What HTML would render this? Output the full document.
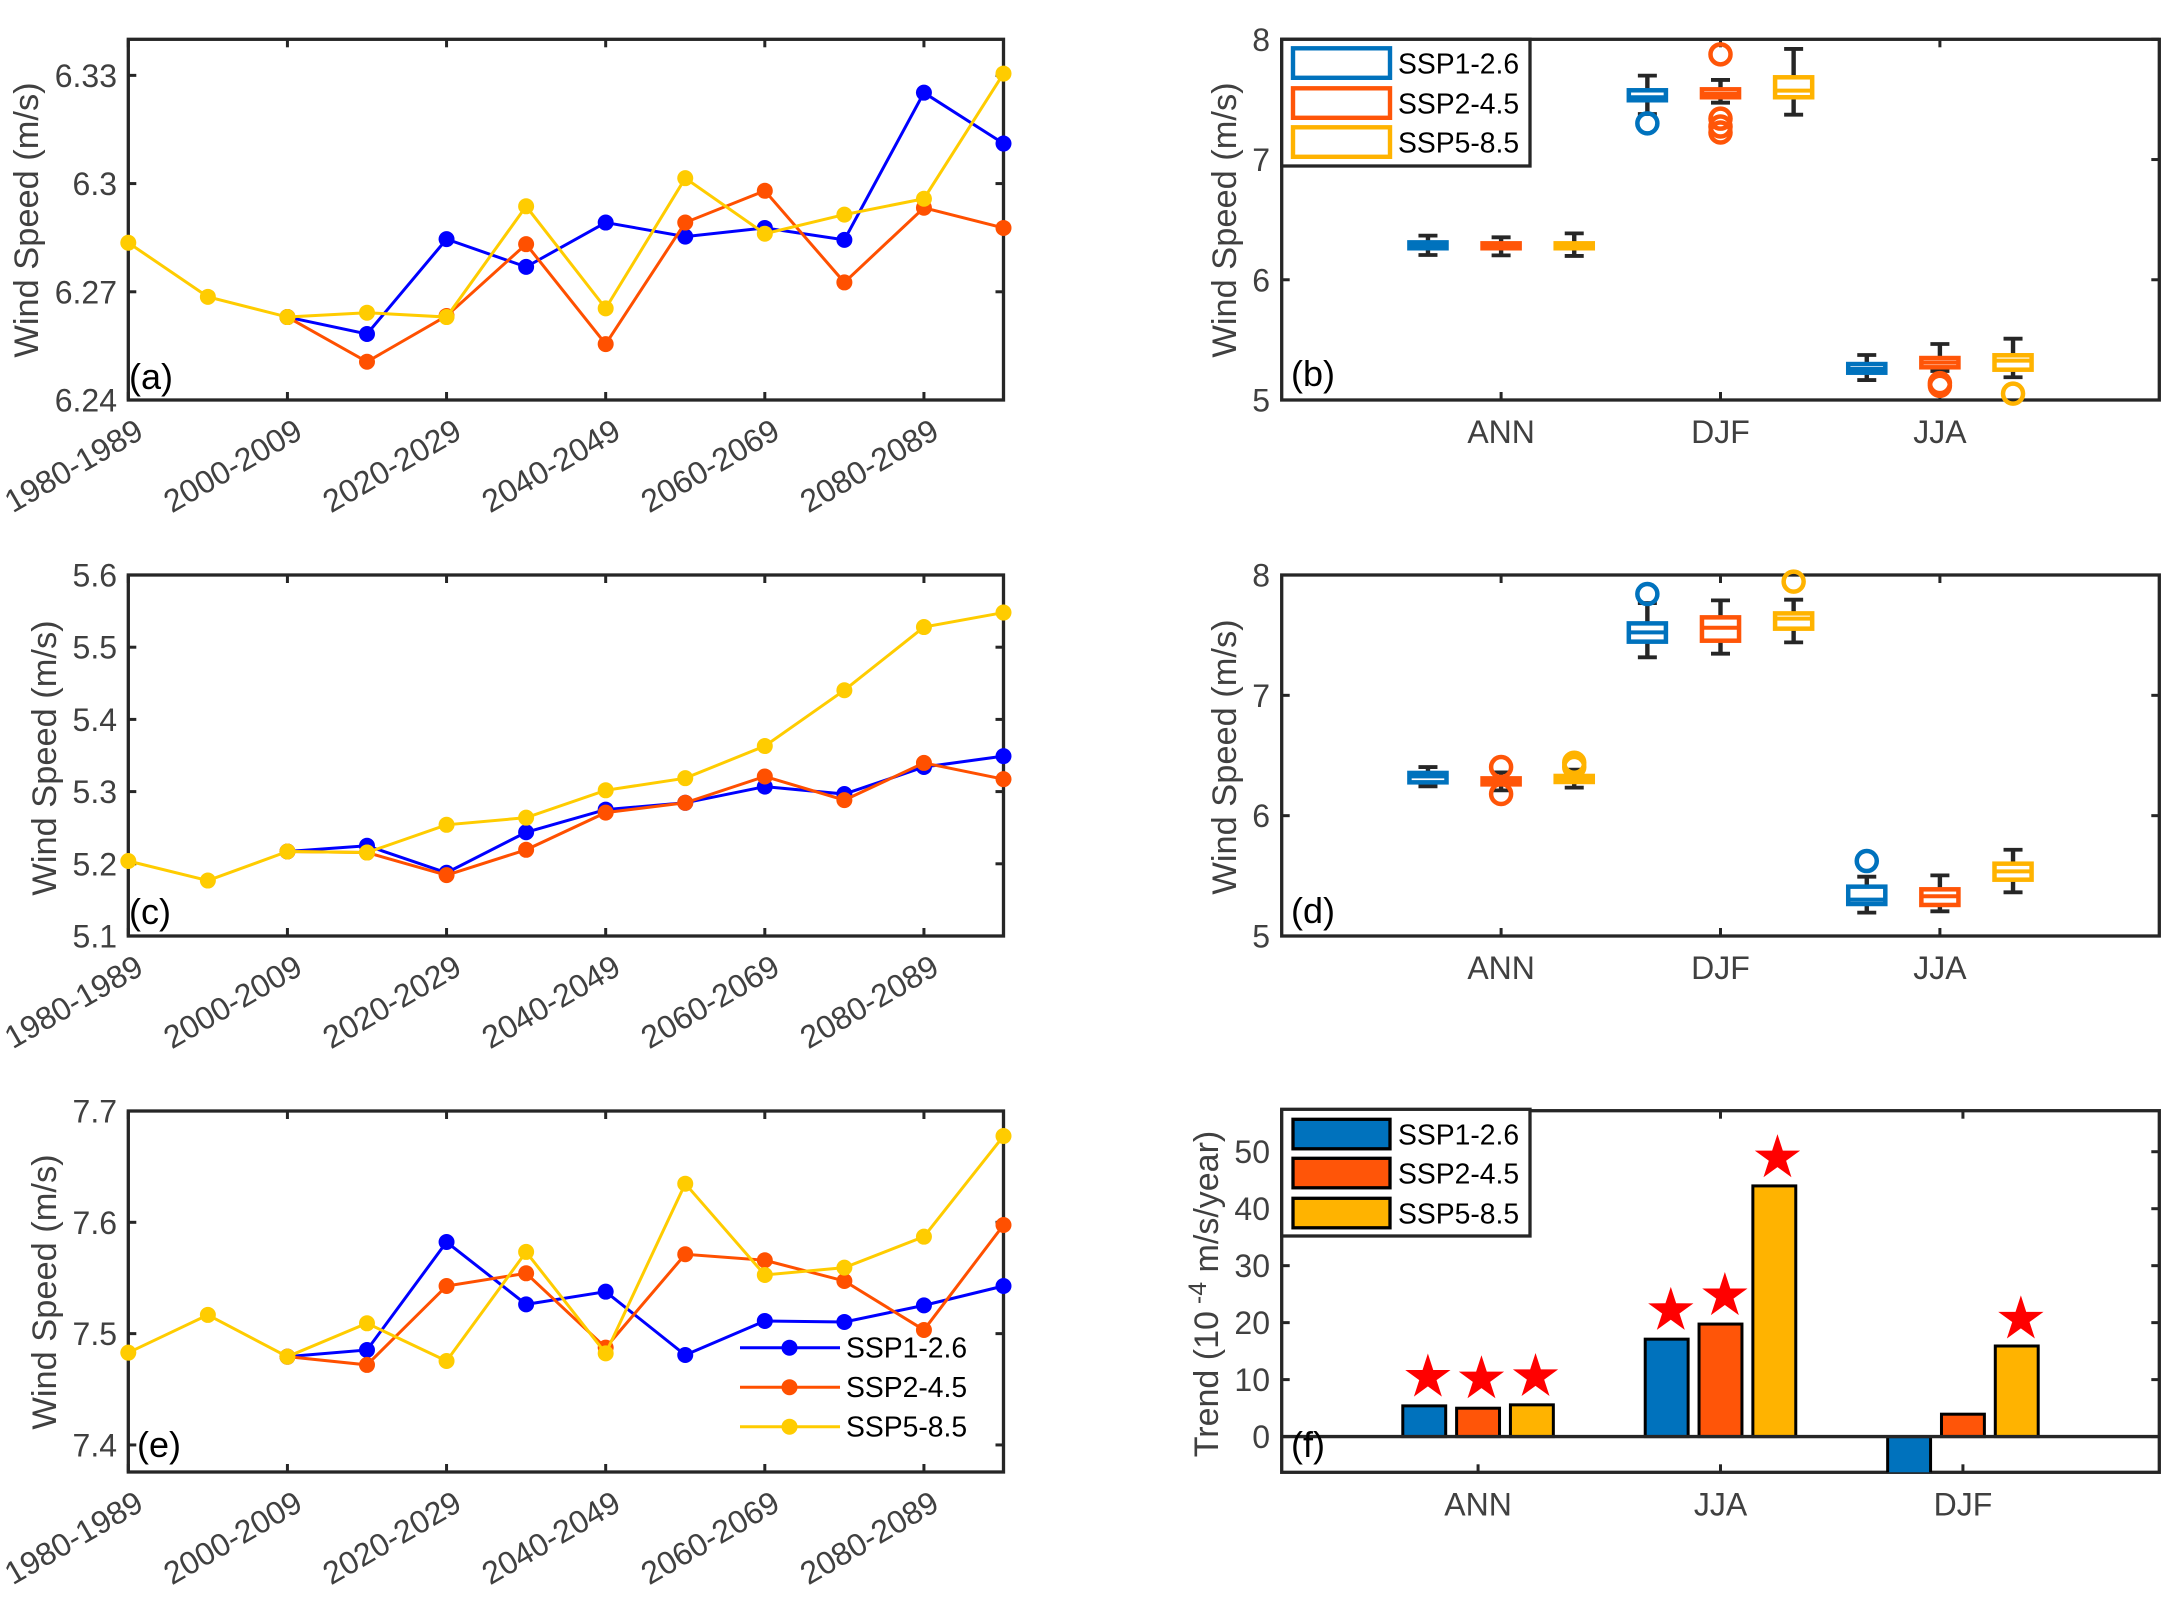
<!DOCTYPE html>
<html lang="en">
<head>
<meta charset="utf-8">
<title>Wind speed under SSP scenarios</title>
<style>
html,body{margin:0;padding:0;background:#fff;}
svg{display:block;}
text{font-family:"Liberation Sans",Arial,sans-serif;}
</style>
</head>
<body>
<svg id="figure" width="2184" height="1601" viewBox="0 0 2184 1601" xmlns="http://www.w3.org/2000/svg"></svg>
<script>
// ---------- Shared labels ----------
const periods = ['1980-1989','1990-1999','2000-2009','2010-2019','2020-2029','2030-2039','2040-2049','2050-2059','2060-2069','2070-2079','2080-2089','2090-2099'];
const seriesNames = ['SSP1-2.6','SSP2-4.5','SSP5-8.5'];
const lineColors = ['#0000ff','#ff5000','#ffcc00'];
const boxColors = ['#0072bd','#ff5508','#ffb300'];

// ---------- Panel (a) ----------
const panelA_ssp126 = [null,null,6.2630,6.2583,6.2846,6.2769,6.2892,6.2853,6.2877,6.2844,6.3252,6.3111];
const panelA_ssp245 = [null,null,6.2630,6.2506,6.2633,6.2832,6.2555,6.2892,6.2980,6.2726,6.2933,6.2877];
const panelA_ssp585 = [6.2836,6.2686,6.2630,6.2642,6.2630,6.2937,6.2654,6.3015,6.2861,6.2914,6.2958,6.3305];
const panelA_yTicks = [6.24,6.27,6.30,6.33];
const panelA_yLabels = ['6.24','6.27','6.3','6.33'];

// ---------- Panel (c) ----------
const panelC_ssp126 = [null,null,5.2170,5.2250,5.1876,5.2437,5.2751,5.2845,5.3069,5.2966,5.3341,5.3491];
const panelC_ssp245 = [null,null,5.2170,5.2156,5.1843,5.2194,5.2709,5.2845,5.3210,5.2882,5.3397,5.3172];
const panelC_ssp585 = [5.2039,5.1768,5.2170,5.2156,5.2540,5.2639,5.3018,5.3186,5.3631,5.4404,5.5279,5.5480];
const panelC_yTicks = [5.1,5.2,5.3,5.4,5.5,5.6];
const panelC_yLabels = ['5.1','5.2','5.3','5.4','5.5','5.6'];

// ---------- Panel (e) ----------
const panelE_ssp126 = [null,null,7.4793,7.4853,7.5823,7.5263,7.5377,7.4808,7.5114,7.5105,7.5254,7.5428];
const panelE_ssp245 = [null,null,7.4793,7.4719,7.5428,7.5542,7.4874,7.5713,7.5659,7.5473,7.5033,7.5976];
const panelE_ssp585 = [7.4829,7.5168,7.4793,7.5093,7.4754,7.5734,7.4823,7.6347,7.5527,7.5593,7.5871,7.6775];
const panelE_yTicks = [7.4,7.5,7.6,7.7];
const panelE_yLabels = ['7.4','7.5','7.6','7.7'];

// ---------- Box plots (b) and (d): order SSP1,SSP2,SSP5 within ANN,DJF,JJA ----------
const boxCategories = ['ANN','DJF','JJA'];
const boxYTicks = [5,6,7,8];
const boxYLabels = ['5','6','7','8'];
const panelB_whiskerHigh = [6.367,6.353,6.386,7.698,7.662,7.920,5.374,5.466,5.510];
const panelB_q3          = [6.311,6.303,6.303,7.576,7.584,7.684,5.299,5.349,5.372];
const panelB_median      = [6.286,6.281,6.281,7.518,7.545,7.573,5.258,5.311,5.327];
const panelB_q1          = [6.262,6.262,6.262,7.493,7.518,7.518,5.227,5.272,5.252];
const panelB_whiskerLow  = [6.206,6.203,6.198,7.379,7.473,7.373,5.166,5.241,5.189];
const panelB_outliers    = [[],[],[],[7.301],[7.875,7.340,7.275,7.225],[],[],[5.140,5.118],[5.053]];
const panelD_whiskerHigh = [6.404,6.360,6.382,7.767,7.789,7.795,5.493,5.504,5.717];
const panelD_q3          = [6.355,6.310,6.330,7.598,7.648,7.681,5.410,5.388,5.601];
const panelD_median      = [6.327,6.285,6.305,7.523,7.562,7.637,5.302,5.330,5.537];
const panelD_q1          = [6.277,6.260,6.280,7.446,7.454,7.554,5.266,5.258,5.468];
const panelD_whiskerLow  = [6.244,6.210,6.233,7.316,7.346,7.440,5.194,5.205,5.363];
const panelD_outliers    = [[],[6.404,6.180],[6.440,6.405],[7.842],[],[7.945],[5.623],[],[]];

// ---------- Bars (f) ----------
const barCategories = ['ANN','JJA','DJF'];
const barSsp126 = [5.39,17.1,-6.6];
const barSsp245 = [4.98,19.75,3.93];
const barSsp585 = [5.57,44.0,15.9];
const barYTicks = [0,10,20,30,40,50];
const barYLabels = ['0','10','20','30','40','50'];
const starCategoryPos = [0.793,1.014,1.237,1.795,2.018,2.235,3.239];
const starValues = [10.4,10.1,10.5,22.1,24.7,48.9,20.6];

// ---------- Helpers ----------
const NS = 'http://www.w3.org/2000/svg';
const fig = document.getElementById('figure');
const INK = '#262626';
const LABEL = '#404040';

function scale(d0, d1, r0, r1) {
  return function (v) { return r0 + (v - d0) * (r1 - r0) / (d1 - d0); };
}
function make(parent, tag, attrs, name) {
  const e = document.createElementNS(NS, tag);
  for (const k in attrs) e.setAttribute(k, attrs[k]);
  
  
  parent.appendChild(e);
  return e;
}
function label(parent, x, y, str, attrs, name) {
  const t = make(parent, 'text', Object.assign({x: x, y: y}, attrs), name);
  t.textContent = str;
  return t;
}
function frame(g, L, R, T, B) {
  make(g, 'rect', {x: L, y: T, width: R - L, height: B - T, fill: 'none', stroke: INK, 'stroke-width': 3.3}, 'axes-box');
}
function tickPair(g, x1, y1, x2, y2, name) {
  make(g, 'line', {x1: x1, y1: y1, x2: x2, y2: y2, stroke: INK, 'stroke-width': 3}, name);
}
function yAxis(g, L, R, yFn, ticks, labels, labelX) {
  ticks.forEach(function (v, i) {
    const y = yFn(v);
    tickPair(g, L, y, L + 8, y, 'y-tick-left');
    tickPair(g, R, y, R - 8, y, 'y-tick-right');
    label(g, labelX, y + 11.5, labels[i], {'font-size': 32, fill: LABEL, 'text-anchor': 'end'}, 'y-tick-label');
  });
}
function yTitle(g, x, y, str) {
  label(g, 0, 0, str, {'font-size': 34.4, fill: LABEL, 'text-anchor': 'middle', transform: 'translate(' + x + ' ' + y + ') rotate(-90)'}, 'y-axis-title');
}
function panelTag(g, x, y, str) {
  label(g, x, y, str, {'font-size': 36, fill: '#000'}, 'panel-label');
}

// ---------- Line panels ----------
const LX0 = 128.3, LX1 = 1003.5;
function linePanel(name, T, B, yMin, yMax, series, ticks, tickLabels, titleX, titleY, tag, tagX, tagY) {
  const g = make(fig, 'g', {}, name);
  const xFn = scale(0, periods.length - 1, LX0, LX1);
  const yFn = scale(yMin, yMax, B, T);
  frame(g, LX0, LX1, T, B);
  periods.forEach(function (p, i) {
    if (i % 2 !== 0) return;
    const x = xFn(i);
    tickPair(g, x, B, x, B - 8, 'x-tick-bottom');
    tickPair(g, x, T, x, T + 8, 'x-tick-top');
    label(g, 0, 0, p, {'font-size': 32, fill: LABEL, 'text-anchor': 'end', transform: 'translate(' + (x + 17) + ' ' + (B + 37) + ') rotate(-30)'}, 'x-tick-label');
  });
  yAxis(g, LX0, LX1, yFn, ticks, tickLabels, 117);
  series.forEach(function (vals, s) {
    const sg = make(g, 'g', {}, 'series-' + seriesNames[s].toLowerCase());
    const pts = [];
    vals.forEach(function (v, i) { if (v !== null) pts.push(xFn(i) + ',' + yFn(v)); });
    make(sg, 'polyline', {points: pts.join(' '), fill: 'none', stroke: lineColors[s], 'stroke-width': 3}, 'series-line');
    vals.forEach(function (v, i) {
      if (v === null) return;
      make(sg, 'circle', {cx: xFn(i), cy: yFn(v), r: 8, fill: lineColors[s]}, 'series-point');
    });
  });
  yTitle(g, titleX, titleY, 'Wind Speed (m/s)');
  panelTag(g, tagX, tagY, tag);
  return g;
}
linePanel('panel-a', 39.3, 400, 6.24, 6.34, [panelA_ssp126, panelA_ssp245, panelA_ssp585], panelA_yTicks, panelA_yLabels, 38, 220, '(a)', 129, 389);
linePanel('panel-c', 575, 936, 5.1, 5.6, [panelC_ssp126, panelC_ssp245, panelC_ssp585], panelC_yTicks, panelC_yLabels, 56, 758, '(c)', 129, 924);
const panelE = linePanel('panel-e', 1111, 1472, 7.3757, 7.7, [panelE_ssp126, panelE_ssp245, panelE_ssp585], panelE_yTicks, panelE_yLabels, 56, 1292, '(e)', 137, 1457);

// Legend inside panel (e)
const legendE = make(panelE, 'g', {}, 'legend');
seriesNames.forEach(function (n, i) {
  const y = 1347.7 + i * 39.5;
  make(legendE, 'line', {x1: 740, y1: y, x2: 840, y2: y, stroke: lineColors[i], 'stroke-width': 3}, 'legend-line');
  make(legendE, 'circle', {cx: 789.5, cy: y, r: 8, fill: lineColors[i]}, 'legend-marker');
  label(legendE, 846, y + 10, n, {'font-size': 28.3, fill: '#000'}, 'legend-entry');
});

// ---------- Box panels ----------
const BX0 = 1281.7, BX1 = 2159.3;
function boxLegend(g, T, bottom, filled) {
  const lg = make(g, 'g', {}, 'legend');
  make(lg, 'rect', {x: BX0, y: T, width: 248.3, height: bottom - T, fill: '#fff', stroke: INK, 'stroke-width': 3.3}, 'legend-box');
  const ys = filled ? [10, 49, 89] : [9, 49, 88];
  seriesNames.forEach(function (n, i) {
    const y = T + ys[i];
    make(lg, 'rect', {x: 1293, y: y, width: 97, height: 29.5, fill: filled ? boxColors[i] : '#fff', stroke: filled ? '#000' : boxColors[i], 'stroke-width': filled ? 3.3 : 4.4}, 'legend-swatch');
    label(lg, 1398, y + 25, n, {'font-size': 28.3, fill: '#000'}, 'legend-entry');
  });
}
function boxPanel(name, T, B, hi, q3, med, q1, lo, outl, titleY, tag, tagY, hasLegend) {
  const g = make(fig, 'g', {}, name);
  const xFn = scale(0, 4, BX0, BX1);
  const yFn = scale(5, 8, B, T);
  frame(g, BX0, BX1, T, B);
  boxCategories.forEach(function (c, i) {
    const x = xFn(i + 1);
    tickPair(g, x, B, x, B - 8, 'x-tick-bottom');
    tickPair(g, x, T, x, T + 8, 'x-tick-top');
    label(g, x, B + 43, c, {'font-size': 32, fill: LABEL, 'text-anchor': 'middle'}, 'x-tick-label');
  });
  yAxis(g, BX0, BX1, yFn, boxYTicks, boxYLabels, 1270);
  hi.forEach(function (_, i) {
    const col = boxColors[i % 3];
    const pos = 2 / 3 + i / 3;
    const x = xFn(pos);
    const half = 0.0845 * (BX1 - BX0) / 4;
    const bg = make(g, 'g', {}, 'box-' + boxCategories[Math.floor(i / 3)].toLowerCase() + '-' + seriesNames[i % 3].toLowerCase());
    make(bg, 'line', {x1: x, y1: yFn(hi[i]), x2: x, y2: yFn(q3[i]), stroke: INK, 'stroke-width': 4.4}, 'whisker-upper');
    make(bg, 'line', {x1: x, y1: yFn(lo[i]), x2: x, y2: yFn(q1[i]), stroke: INK, 'stroke-width': 4.4}, 'whisker-lower');
    make(bg, 'line', {x1: x - 9.5, y1: yFn(hi[i]), x2: x + 9.5, y2: yFn(hi[i]), stroke: INK, 'stroke-width': 3.8}, 'cap-upper');
    make(bg, 'line', {x1: x - 9.5, y1: yFn(lo[i]), x2: x + 9.5, y2: yFn(lo[i]), stroke: INK, 'stroke-width': 3.8}, 'cap-lower');
    make(bg, 'rect', {x: x - half, y: yFn(q3[i]), width: 2 * half, height: yFn(q1[i]) - yFn(q3[i]), fill: 'none', stroke: col, 'stroke-width': 4.5}, 'box-body');
    make(bg, 'line', {x1: x - half, y1: yFn(med[i]), x2: x + half, y2: yFn(med[i]), stroke: col, 'stroke-width': 4}, 'box-median');
    outl[i].forEach(function (v) {
      make(bg, 'circle', {cx: x, cy: yFn(v), r: 10, fill: 'none', stroke: col, 'stroke-width': 4.5}, 'box-outlier');
    });
  });
  yTitle(g, 1236, titleY, 'Wind Speed (m/s)');
  panelTag(g, 1291, tagY, tag);
  if (hasLegend) boxLegend(g, T, 166, false);
}
boxPanel('panel-b', 39.3, 400, panelB_whiskerHigh, panelB_q3, panelB_median, panelB_q1, panelB_whiskerLow, panelB_outliers, 220, '(b)', 386, true);
boxPanel('panel-d', 575, 936, panelD_whiskerHigh, panelD_q3, panelD_median, panelD_q1, panelD_whiskerLow, panelD_outliers, 757, '(d)', 923, false);

// ---------- Bar panel (f) ----------
(function () {
  const T = 1110.7, B = 1472.3;
  const g = make(fig, 'g', {}, 'panel-f');
  const xFn = scale(0.19, 3.81, BX0, BX1);
  const yFn = scale(-6.27, 57.2, B, T);
  const clip = make(g, 'clipPath', {id: 'clip-f'}, 'plot-clip');
  make(clip, 'rect', {x: BX0, y: T, width: BX1 - BX0, height: B - T}, 'plot-clip-area');
  frame(g, BX0, BX1, T, B);
  barCategories.forEach(function (c, i) {
    const x = xFn(i + 1);
    tickPair(g, x, B, x, B - 8, 'x-tick-bottom');
    tickPair(g, x, T, x, T + 8, 'x-tick-top');
    label(g, x, B + 43, c, {'font-size': 32, fill: LABEL, 'text-anchor': 'middle'}, 'x-tick-label');
  });
  yAxis(g, BX0, BX1, yFn, barYTicks, barYLabels, 1270);
  const barsG = make(g, 'g', {'clip-path': 'url(#clip-f)'}, 'bars');
  [barSsp126, barSsp245, barSsp585].forEach(function (vals, s) {
    vals.forEach(function (v, i) {
      const cx = xFn(i + 1 + (s - 1) * 0.222);
      const w = xFn(0.177) - xFn(0);
      const y0 = yFn(Math.max(v, 0));
      const y1 = yFn(Math.min(v, 0));
      make(barsG, 'rect', {x: cx - w / 2, y: y0, width: w, height: y1 - y0, fill: boxColors[s], stroke: '#000', 'stroke-width': 3}, 'bar-' + barCategories[i].toLowerCase() + '-' + seriesNames[s].toLowerCase());
    });
  });
  make(g, 'line', {x1: BX0, y1: yFn(0), x2: BX1, y2: yFn(0), stroke: INK, 'stroke-width': 3.3}, 'zero-line');
  starValues.forEach(function (v, i) {
    const cx = xFn(starCategoryPos[i]);
    const cy = yFn(v);
    const pts = [];
    for (let k = 0; k < 10; k++) {
      const r = k % 2 === 0 ? 23.8 : 9.1;
      const a = -Math.PI / 2 + k * Math.PI / 5;
      pts.push((cx + r * Math.cos(a)) + ',' + (cy + r * Math.sin(a)));
    }
    make(g, 'polygon', {points: pts.join(' '), fill: '#ff0000'}, 'significance-star');
  });
  const title = make(g, 'text', {'font-size': 34, fill: LABEL, 'text-anchor': 'middle', transform: 'translate(1218 1294) rotate(-90)'}, 'y-axis-title');
  const t1 = document.createElementNS(NS, 'tspan');
  t1.textContent = 'Trend (10';
  title.appendChild(t1);
  const t2 = document.createElementNS(NS, 'tspan');
  t2.setAttribute('dy', '-12');
  t2.setAttribute('font-size', '25');
  t2.textContent = ' -4';
  title.appendChild(t2);
  const t3 = document.createElementNS(NS, 'tspan');
  t3.setAttribute('dy', '12');
  t3.textContent = ' m/s/year)';
  title.appendChild(t3);
  panelTag(g, 1291, 1457, '(f)');
  boxLegend(g, 1109.3, 1236, true);
})();
</script>
</body>
</html>
